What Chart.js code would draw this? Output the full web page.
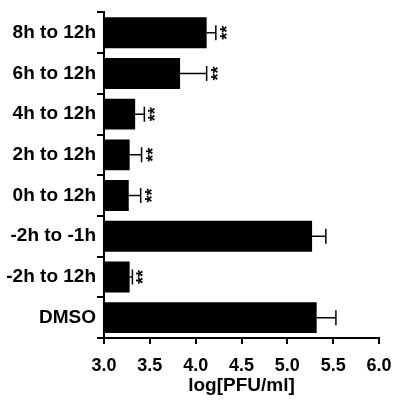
<!DOCTYPE html>
<html>
<head>
<meta charset="utf-8">
<script src="https://cdn.jsdelivr.net/npm/chart.js@4.4.1/dist/chart.umd.min.js"></script>
<style>
html,body{margin:0;padding:0;background:#fff;}
#wrap{width:394px;height:402px;}
</style>
</head>
<body>
<div id="wrap"><canvas id="c" width="394" height="402"></canvas></div>
<script>
const categories = ['8h to 12h','6h to 12h','4h to 12h','2h to 12h','0h to 12h','-2h to -1h','-2h to 12h','DMSO'];
const means = [4.12, 3.83, 3.34, 3.28, 3.27, 5.27, 3.28, 5.32];
const errors = [0.10, 0.29, 0.10, 0.13, 0.13, 0.15, 0.03, 0.21];
const significance = ['**','**','**','**','**','','**',''];
const xTickValues = [3.0, 3.5, 4.0, 4.5, 5.0, 5.5, 6.0];
const xTitle = 'log[PFU/ml]';

const FONT = 'Arial, "Liberation Sans", Helvetica, sans-serif';

const errorPlugin = {
  id: 'errbars',
  afterDatasetsDraw(chart) {
    const ctx = chart.ctx;
    const xs = chart.scales.x, ys = chart.scales.y;
    ctx.save();
    ctx.strokeStyle = '#000';
    ctx.fillStyle = '#000';
    ctx.lineWidth = 1.5;
    means.forEach((m, i) => {
      const x0 = xs.getPixelForValue(m);
      const x1 = xs.getPixelForValue(m + errors[i]);
      const y = ys.getPixelForValue(i);
      ctx.beginPath();
      ctx.moveTo(x0, y); ctx.lineTo(x1, y);
      ctx.moveTo(x1, y - 7.5); ctx.lineTo(x1, y + 7.5);
      ctx.stroke();
      if (significance[i]) {
        ctx.save();
        ctx.translate(x1 + 3, y);
        ctx.rotate(-Math.PI / 2);
        ctx.font = 'bold 18px ' + FONT;
        ctx.textAlign = 'center';
        ctx.textBaseline = 'top';
        ctx.fillText(significance[i], 0, 0);
        ctx.restore();
      }
    });
    ctx.restore();
  }
};

new Chart(document.getElementById('c'), {
  type: 'bar',
  data: {
    labels: categories,
    datasets: [{
      data: means,
      backgroundColor: '#000',
      borderWidth: 0,
      barPercentage: 0.76,
      categoryPercentage: 1.0
    }]
  },
  options: {
    indexAxis: 'y',
    responsive: false,
    animation: false,
    devicePixelRatio: 1,
    layout: { padding: { top: 8, right: 15, bottom: 4, left: 0 } },
    plugins: { legend: { display: false }, tooltip: { enabled: false } },
    scales: {
      x: {
        type: 'linear',
        min: 3, max: 6,
        afterBuildTicks(scale) { scale.ticks = xTickValues.map(v => ({ value: v })); },
        afterFit(scale) { scale.height = 60; scale.paddingRight = 0; scale.paddingLeft = 0; },
        ticks: {
          callback: v => Number(v).toFixed(1),
          color: '#000',
          font: { family: FONT, size: 18, weight: 'bold' },
          padding: 11,
          maxRotation: 0,
          autoSkip: false
        },
        grid: { drawOnChartArea: false, drawTicks: true, tickLength: 6, color: '#000', lineWidth: 2 },
        border: { display: true, color: '#000', width: 2 },
        title: {
          display: true,
          text: xTitle,
          color: '#000',
          font: { family: FONT, size: 19, weight: 'bold' },
          padding: { top: 2, bottom: 1 }
        }
      },
      y: {
        type: 'category',
        afterFit(scale) { scale.width = 104; },
        ticks: {
          color: '#000',
          font: { family: FONT, size: 19, weight: 'bold' },
          padding: 1
        },
        grid: { drawOnChartArea: false, drawTicks: true, tickLength: 7, color: '#000', lineWidth: 2 },
        border: { display: true, color: '#000', width: 2 }
      }
    }
  },
  plugins: [errorPlugin]
});
</script>
</body>
</html>
